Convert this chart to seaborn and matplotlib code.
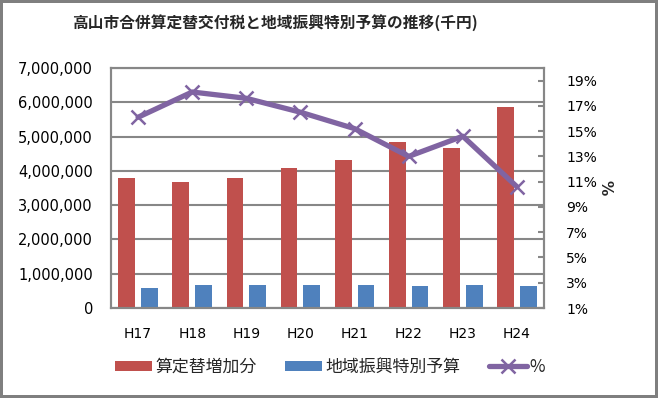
import numpy as np
import pandas as pd
import matplotlib
matplotlib.use("Agg")
import matplotlib.pyplot as plt
import seaborn as sns
from matplotlib.patches import Patch
from matplotlib.lines import Line2D
from matplotlib.ticker import FuncFormatter, FixedLocator

categories = ["H17", "H18", "H19", "H20", "H21", "H22", "H23", "H24"]
increase = [3800000, 3680000, 3800000, 4070000, 4330000, 4850000, 4680000, 5870000]
special = [573000, 660000, 660000, 660000, 660000, 630000, 660000, 630000]
pct = [0.161, 0.181, 0.176, 0.165, 0.152, 0.130, 0.146, 0.106]
series_names = ["算定替増加分", "地域振興特別予算"]
line_name = "%"
title = "高山市合併算定替交付税と地域振興特別予算の推移(千円)"
left_ticks = [0, 1000000, 2000000, 3000000, 4000000, 5000000, 6000000, 7000000]
right_ticks = [0.01, 0.03, 0.05, 0.07, 0.09, 0.11, 0.13, 0.15, 0.17, 0.19]

RED = "#C0504D"
BLUE = "#4F81BD"
PURPLE = "#8064A2"
GRID = "#878787"

sns.set_theme(style="white")
plt.rcParams['font.family'] = ['DejaVu Sans', 'Noto Sans CJK JP']
cjk = ['Noto Sans CJK JP', 'DejaVu Sans']

df = pd.DataFrame({
    "cat": categories * 2,
    "value": increase + special,
    "series": [series_names[0]] * len(categories) + [series_names[1]] * len(categories),
})


def build(grid_on_twin):
    fig = plt.figure(figsize=(6.58, 3.98), dpi=100)
    fig.patch.set_edgecolor("#7f7f7f")
    fig.patch.set_linewidth(3)
    pos = [111 / 658, 1 - 308 / 398, (544 - 111) / 658, (308 - 68) / 398]

    ax = fig.add_axes(pos)
    ax.set_ylim(0, 7000000)
    ax.yaxis.set_major_locator(FixedLocator(left_ticks))
    ax.yaxis.grid(True, color=GRID, linewidth=1.5)
    ax.set_axisbelow(True)

    sns.barplot(data=df, x="cat", y="value", hue="series", order=categories,
                hue_order=series_names, palette=[RED, BLUE], width=0.84, gap=0.26,
                saturation=1, ax=ax, legend=False, errorbar=None, linewidth=0,
                edgecolor="none", zorder=2)

    ax.set_ylim(0, 7000000)
    ax.set_xlim(-0.5, len(categories) - 0.5)
    ax.yaxis.set_major_locator(FixedLocator(left_ticks))
    ax.yaxis.set_major_formatter(FuncFormatter(lambda v, p: f"{int(v):,}"))
    ax.yaxis.grid(True, color=GRID, linewidth=1.5)
    ax.set_xlabel("")
    ax.set_ylabel("")
    for s in ax.spines.values():
        s.set_color(GRID)
        s.set_linewidth(1.5)
    ax.tick_params(axis="y", length=0, pad=13, labelsize=10.5, labelcolor="black")
    ax.tick_params(axis="x", length=0, pad=14, labelsize=10, labelcolor="black")

    ax2 = ax.twinx()
    sns.lineplot(x=np.arange(len(categories)), y=pct, ax=ax2, color=PURPLE,
                 linewidth=3.8, marker="x", markersize=10, markeredgewidth=1.8,
                 markeredgecolor=PURPLE, zorder=5)
    ax2.set_ylim(0.01, 0.20)
    ax2.yaxis.set_major_locator(FixedLocator(right_ticks))
    ax2.yaxis.set_major_formatter(FuncFormatter(lambda v, p: f"{round(v*100)}%"))
    ax2.tick_params(axis="y", direction="in", length=4, width=1.5, color=GRID,
                    pad=16, labelsize=10, labelcolor="black")
    ax2.set_ylabel("%", rotation=-90, fontsize=11, fontweight="bold", labelpad=6, va="center")
    for s in ax2.spines.values():
        s.set_color(GRID)
        s.set_linewidth(1.5)
    ax2.patch.set_visible(False)
    ax2.grid(False)

    if grid_on_twin:
        # fallback: gridlines of the left scale drawn in the twin axes
        for t in left_ticks:
            ax2.plot([0, 1], [t, t], transform=ax.get_yaxis_transform(),
                     color=GRID, linewidth=1.5, zorder=1)

    fig.text(275 / 658, 1 - 23 / 398, title, ha="center", va="center",
             fontsize=11.3, fontweight="bold", family=cjk)

    handles = [Patch(facecolor=RED, edgecolor="none"),
               Patch(facecolor=BLUE, edgecolor="none"),
               Line2D([0], [0], color=PURPLE, linewidth=3.8, marker="x",
                      markersize=10, markeredgewidth=1.8)]
    fig.legend(handles, series_names + [line_name], loc="center",
               bbox_to_anchor=(330 / 658, 1 - 367 / 398), ncol=3, frameon=False,
               prop={"family": cjk, "size": 12.2}, handlelength=2.2, handleheight=0.6,
               handletextpad=0.18, columnspacing=1.7)
    return fig, ax


def grid_visible(fig, ax):
    fig.canvas.draw()
    arr = np.asarray(fig.canvas.buffer_rgba())
    xd, yd = ax.transData.transform((0.5, left_ticks[5]))
    r = int(round(arr.shape[0] - yd))
    c = int(round(xd))
    win = arr[max(r - 3, 0):r + 4, max(c - 2, 0):c + 3, :3]
    return win.size > 0 and win.min() < 200


fig, ax = build(False)
if not grid_visible(fig, ax):
    plt.close(fig)
    fig, ax = build(True)

fig.savefig("out.png", dpi=100, edgecolor=fig.get_edgecolor())
